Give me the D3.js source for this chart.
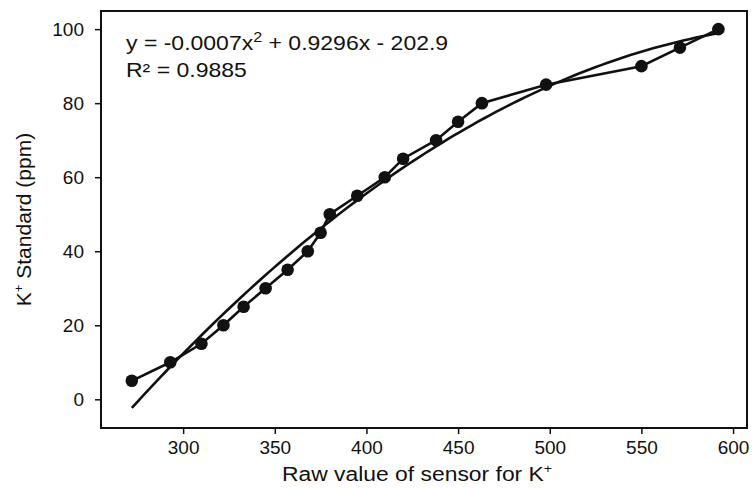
<!DOCTYPE html>
<html>
<head>
<meta charset="utf-8">
<script src="https://cdn.jsdelivr.net/npm/d3@7"></script>
<style>
  body { margin: 0; background: #fff; }
  .tick text { font-family: "Liberation Sans", Arial, sans-serif; font-size: 19px; fill: #111; }
  .lbl { font-family: "Liberation Sans", Arial, sans-serif; font-size: 21px; fill: #111; }
</style>
</head>
<body>
<div id="chart"></div>
<script>
// raw sensor readings vs standard concentration
const rawValues = [272, 293, 310, 322, 333, 345, 357, 368, 375, 380, 395, 410, 420, 438, 450, 463, 498, 550, 571, 592];
const standardPpm = [5, 10, 15, 20, 25, 30, 35, 40, 45, 50, 55, 60, 65, 70, 75, 80, 85, 90, 95, 100];
const xTicks = [300, 350, 400, 450, 500, 550, 600];
const yTicks = [0, 20, 40, 60, 80, 100];
const equationText = ["y = -0.0007x", "2", " + 0.9296x - 202.9"];
const r2Text = "R² = 0.9885";

const W = 752, H = 488;
const margin = { top: 11, right: 5, bottom: 60, left: 101 };

const svg = d3.select("#chart").append("svg")
    .attr("width", W).attr("height", H);

const x = d3.scaleLinear().domain([255.2, 607.6]).range([margin.left, W - margin.right]);
const y = d3.scaleLinear().domain([-7.75, 104.9]).range([H - margin.bottom, margin.top]);

// least squares quadratic fit (trendline)
function quadFit(xs, ys) {
    let s = [0, 0, 0, 0, 0], t = [0, 0, 0];
    xs.forEach((xv, i) => {
        let p = 1;
        for (let k = 0; k < 5; k++) { s[k] += p; if (k < 3) t[k] += p * ys[i]; p *= xv; }
    });
    const A = [[s[0], s[1], s[2], t[0]], [s[1], s[2], s[3], t[1]], [s[2], s[3], s[4], t[2]]];
    for (let i = 0; i < 3; i++) {
        for (let j = i + 1; j < 3; j++) {
            const f = A[j][i] / A[i][i];
            for (let k = i; k < 4; k++) A[j][k] -= f * A[i][k];
        }
    }
    const c = [0, 0, 0];
    for (let i = 2; i >= 0; i--) {
        let v = A[i][3];
        for (let k = i + 1; k < 3; k++) v -= A[i][k] * c[k];
        c[i] = v / A[i][i];
    }
    return c;
}
const coef = quadFit(rawValues, standardPpm);
const x0 = d3.min(rawValues), x1 = d3.max(rawValues);
const fitPts = d3.range(0, 101).map(i => {
    const xv = x0 + (x1 - x0) * i / 100;
    return [xv, coef[0] + coef[1] * xv + coef[2] * xv * xv];
});

// axes
svg.append("g")
    .attr("transform", `translate(0,${H - margin.bottom})`)
    .call(d3.axisBottom(x).tickValues(xTicks).tickSize(6).tickPadding(7))
    .call(g => g.select(".domain").remove())
    .call(g => g.selectAll("line").attr("stroke", "#111").attr("stroke-width", 1.5));

svg.append("g")
    .attr("transform", `translate(${margin.left},0)`)
    .call(d3.axisLeft(y).tickValues(yTicks).tickSize(6).tickPadding(11))
    .call(g => g.select(".domain").remove())
    .call(g => g.selectAll("line").attr("stroke", "#111").attr("stroke-width", 1.5));

// frame
svg.append("rect")
    .attr("x", margin.left).attr("y", margin.top)
    .attr("width", W - margin.left - margin.right)
    .attr("height", H - margin.top - margin.bottom)
    .attr("fill", "none").attr("stroke", "#111").attr("stroke-width", 2);

// trendline
svg.append("path")
    .datum(fitPts)
    .attr("fill", "none").attr("stroke", "#111").attr("stroke-width", 2.6)
    .attr("d", d3.line().x(d => x(d[0])).y(d => y(d[1])));

// data line + markers
svg.append("path")
    .datum(rawValues.map((v, i) => [v, standardPpm[i]]))
    .attr("fill", "none").attr("stroke", "#111").attr("stroke-width", 2.6)
    .attr("d", d3.line().x(d => x(d[0])).y(d => y(d[1])));

svg.selectAll(".pt")
    .data(rawValues.map((v, i) => [v, standardPpm[i]]))
    .join("circle")
    .attr("class", "pt")
    .attr("cx", d => x(d[0])).attr("cy", d => y(d[1]))
    .attr("r", 6.3).attr("fill", "#111");

// equation
const eq = svg.append("text").attr("class", "lbl")
    .attr("transform", "translate(126,50) scale(1.15,1)").style("font-size", "20px");
eq.append("tspan").text(equationText[0]);
eq.append("tspan").attr("dy", -8).style("font-size", "14px").text(equationText[1]);
eq.append("tspan").attr("dy", 8).text(equationText[2]);

svg.append("text").attr("class", "lbl")
    .attr("transform", "translate(126,77) scale(1.15,1)").style("font-size", "20px")
    .text(r2Text);

// axis titles
const xl = svg.append("text").attr("class", "lbl")
    .attr("transform", "translate(417,481) scale(1.09,1)").attr("text-anchor", "middle");
xl.append("tspan").text("Raw value of sensor for K");
xl.append("tspan").attr("dy", -8).style("font-size", "13px").text("+");

const yl = svg.append("text").attr("class", "lbl")
    .attr("transform", `translate(31,${(margin.top + H - margin.bottom) / 2}) rotate(-90)`)
    .attr("text-anchor", "middle");
yl.append("tspan").text("K");
yl.append("tspan").attr("dy", -8).style("font-size", "13px").text("+");
yl.append("tspan").attr("dy", 8).text(" Standard (ppm)");
</script>
</body>
</html>
